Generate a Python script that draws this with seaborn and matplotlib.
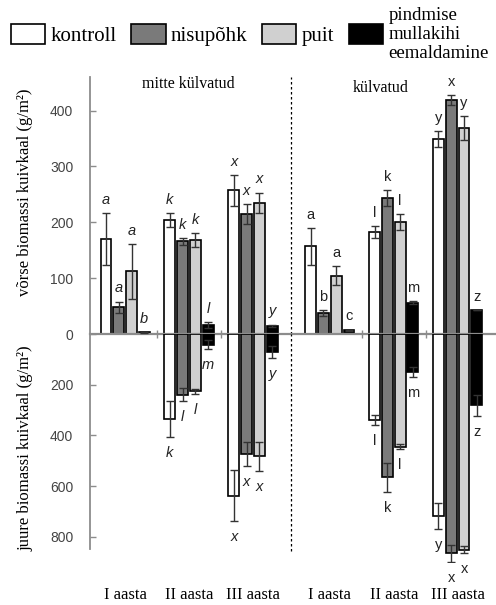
import pandas as pd
import seaborn as sns
import matplotlib.pyplot as plt
import matplotlib.transforms as mtransforms
from matplotlib.patches import Patch

# Treatments (hue) and their fills
treatments = ['kontroll', 'nisupõhk', 'puit', 'pindmise mullakihi eemaldamine']
colors = ['#ffffff', '#7a7a7a', '#d0d0d0', '#000000']

# six year groups: three "mitte külvatud", three "külvatud"
year_labels = ['I aasta', 'II aasta', 'III aasta', 'I aasta', 'II aasta', 'III aasta']
group_pos = [0, 1, 2, 3.2, 4.2, 5.2]
panel_titles = ['mitte külvatud', 'külvatud']

# above-ground biomass (g/m2); rows = groups, cols = treatments
shoot_mean = [[170, 48, 112, 3],
              [204, 166, 168, 16],
              [257, 214, 235, 15],
              [157, 38, 104, 7],
              [182, 243, 200, 56],
              [349, 419, 369, 43]]
shoot_se = [[47, 10, 49, 1],
            [13, 6, 13, 5],
            [27, 18, 18, 2],
            [33, 5, 17, 1],
            [11, 14, 14, 3],
            [14, 9, 21, 0]]
shoot_letters = [['a', 'a', 'a', 'b'],
                 ['k', 'k', 'k', 'l'],
                 ['x', 'x', 'x', 'y'],
                 ['a', 'b', 'a', 'c'],
                 ['l', 'k', 'l', 'm'],
                 ['y', 'x', 'y', 'z']]

# below-ground biomass (g/m2), only II and III aasta
root_groups = [1, 2, 4, 5]
root_mean = [[335, 240, 226, 42],
             [638, 475, 482, 71],
             [339, 566, 445, 149],
             [718, 865, 851, 282]]
root_se = [[71, 25, 10, 17],
           [100, 47, 57, 24],
           [20, 56, 10, 20],
           [50, 34, 15, 43]]
root_letters = [['k', 'l', 'l', 'm'],
                ['x', 'x', 'x', 'y'],
                ['l', 'k', 'l', 'm'],
                ['y', 'x', 'x', 'z']]


def make_df(groups, means, ses, letters):
    rows = []
    for gi, g in enumerate(groups):
        for ti, tr in enumerate(treatments):
            rows.append(dict(pos=group_pos[g], treatment=tr, value=means[gi][ti],
                             se=ses[gi][ti], letter=letters[gi][ti], italic=g < 3))
    return pd.DataFrame(rows)


shoot_df = make_df(range(6), shoot_mean, shoot_se, shoot_letters)
root_df = make_df(root_groups, root_mean, root_se, root_letters)

plt.rcParams['font.family'] = 'sans-serif'
plt.rcParams['font.sans-serif'] = ['Liberation Sans', 'DejaVu Sans']
plt.rcParams['font.serif'] = ['Liberation Serif', 'DejaVu Serif']

W, H = 496, 605
fig = plt.figure(figsize=(W / 100, H / 100), dpi=100)
ax1 = fig.add_axes([90 / W, 1 - 334 / H, 406 / W, (334 - 77) / H])
ax2 = fig.add_axes([90 / W, 1 - 562 / H, 406 / W, (562 - 334) / H])

axis_gray = '#8c8c8c'
for ax, df, up in [(ax1, shoot_df, True), (ax2, root_df, False)]:
    sns.barplot(data=df, x='pos', y='value', hue='treatment', hue_order=treatments,
                palette=colors, saturation=1, native_scale=True, errorbar=None,
                gap=0.15, edgecolor='black', linewidth=1.2, legend=False, ax=ax,
                zorder=2)
    conts = list(ax.containers)
    for cont, tr in zip(conts, treatments):
        sub = df[df.treatment == tr].sort_values('pos')
        xs = [p.get_x() + p.get_width() / 2 for p in cont.patches]
        ax.errorbar(xs, sub.value, yerr=sub.se, fmt='none', ecolor='#333333',
                    elinewidth=1, capsize=3, capthick=1, zorder=3)
        for x, (_, r) in zip(xs, sub.iterrows()):
            ax.annotate(r.letter, (x, r.value + r.se),
                        xytext=(0, 9.5 if up else -11.5), textcoords='offset points',
                        ha='center', va='center', fontsize=10.5, color='#222222',
                        style='italic' if r.italic else 'normal')
    ax.set_xlim(-0.55, 5.8)
    ax.set_xlabel('')
    ax.spines['top'].set_visible(False)
    ax.spines['right'].set_visible(False)
    ax.spines['left'].set_color(axis_gray)
    ax.spines['left'].set_linewidth(1.3)
    ax.tick_params(axis='y', direction='in', length=4, width=1, color=axis_gray,
                   labelcolor='#444444', labelsize=10, pad=12)
    ax.set_facecolor('none')

# top panel: shoots
ax1.set_ylim(0, 460)
ax1.set_yticks([0, 100, 200, 300, 400])
ax1.spines['bottom'].set_color(axis_gray)
ax1.spines['bottom'].set_linewidth(1.6)
ax1.set_xticks([0.5, 1.5, 3.7, 4.7])
ax1.set_xticklabels([])
ax1.tick_params(axis='x', direction='inout', length=6, width=1, color=axis_gray)
ax1.set_ylabel('võrse biomassi kuivkaal (g/m²)', family='serif', fontsize=12)
ax1.yaxis.set_label_coords(-0.14, 0.55)
ax1.axvline(2.6, color='black', ls=(0, (2, 2)), lw=0.9, zorder=1)

trans = mtransforms.blended_transform_factory(ax1.transData, ax1.transAxes)
ax1.text(0.98, 0.973, panel_titles[0], transform=trans, ha='center', va='center',
         family='serif', fontsize=11.5)
ax1.text(4.0, 0.957, panel_titles[1], transform=trans, ha='center', va='center',
         family='serif', fontsize=11.5)

# bottom panel: roots (drawn downward)
ax2.set_ylim(900, 0)
ax2.set_yticks([200, 400, 600, 800])
ax2.spines['left'].set_bounds(0, 850)
ax2.spines['bottom'].set_visible(False)
ax2.set_xticks(group_pos)
ax2.set_xticklabels(year_labels, family='serif', fontsize=12)
ax2.tick_params(axis='x', length=0, pad=18)
ax2.set_ylabel('juure biomassi kuivkaal (g/m²)', family='serif', fontsize=12)
ax2.yaxis.set_label_coords(-0.14, 0.5)
ax2.axvline(2.6, ymin=0.05, color='black', ls=(0, (2, 2)), lw=0.9, zorder=1)

# legend across the top
handles = [Patch(facecolor=c, edgecolor='black', linewidth=1.2,
                 label=t.replace(' ', '\n') if t.startswith('pindmise') else t)
           for t, c in zip(treatments, colors)]
leg = fig.legend(handles=handles, loc='upper left', bbox_to_anchor=(11 / W, 1 - 7 / H),
                 ncol=4, frameon=False, prop={'family': 'serif', 'size': 15},
                 handlelength=1.65, handleheight=1.05, handletextpad=0.25,
                 columnspacing=0.7, borderaxespad=0, borderpad=0)
leg.get_texts()[3].set_fontsize(13.5)
leg.get_texts()[3].set_linespacing(1.15)

fig.savefig('out.png', dpi=100)
